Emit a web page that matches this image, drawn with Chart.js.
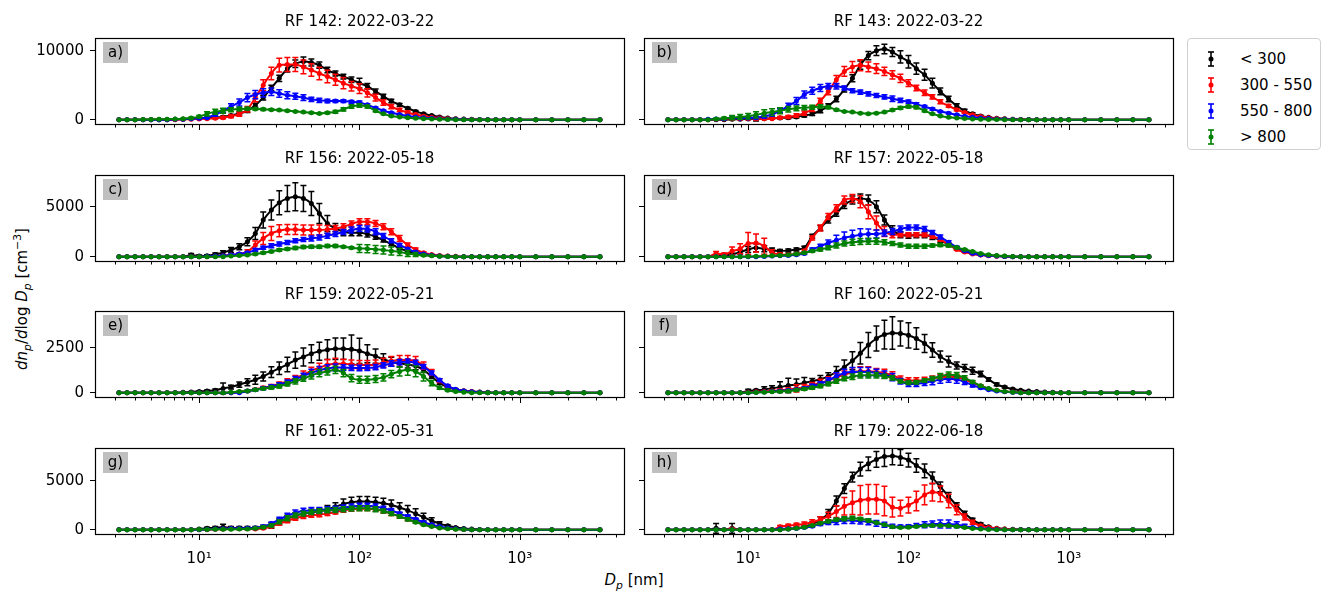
<!DOCTYPE html>
<html>
<head>
<meta charset="utf-8">
<script src="https://cdn.jsdelivr.net/npm/chart.js@4.4.1/dist/chart.umd.min.js"></script>
<style>
body { margin: 0; background: #fff; width: 1323px; height: 592px; overflow: hidden; position: relative;
       font-family: "DejaVu Sans", sans-serif; color: #000; }
canvas { position: absolute; }
#ylab { position: absolute; left: 22px; top: 299px; transform: translate(-50%, -50%) rotate(-90deg);
        font-size: 15px; white-space: nowrap; }
#xlab { position: absolute; left: 634px; top: 580px; transform: translate(-50%, -50%);
        font-size: 15px; white-space: nowrap; }
sub, sup { font-size: 0.72em; line-height: 0; }
#legend { position: absolute; left: 1187px; top: 38px; width: 134px; height: 112px; box-sizing: border-box;
          border: 1px solid #d0d0d0; border-radius: 4px; font-size: 15px; }
#legend svg { position: absolute; left: 16px; }
#legend span { position: absolute; left: 52px; line-height: 18px; white-space: nowrap; }
</style>
</head>
<body>
<div id="ylab"><i>dn</i><sub><i>p</i></sub>/<i>d</i>log <i>D</i><sub><i>p</i></sub> [cm<sup>−3</sup>]</div>
<div id="xlab"><i>D</i><sub><i>p</i></sub> [nm]</div>
<div id="legend"></div>
<script>
// particle diameter bins [nm]
const diam = [3.16, 3.55, 3.98, 4.47, 5.01, 5.62, 6.31, 7.08, 7.94, 8.91,
  10.0, 11.2, 12.6, 14.1, 15.8, 17.8, 20.0, 22.4, 25.1, 28.2,
  31.6, 35.5, 39.8, 44.7, 50.1, 56.2, 63.1, 70.8, 79.4, 89.1,
  100, 112, 126, 141, 158, 178, 200, 224, 251, 282,
  316, 355, 398, 447, 501, 562, 631, 708, 794, 891,
  1000, 1259, 1585, 1995, 2512, 3162];

const seriesNames = ['< 300', '300 - 550', '550 - 800', '> 800'];
const seriesColors = ['#000000', '#ff0000', '#0000ff', '#008000'];

const xTicks = [3, 4, 5, 6, 7, 8, 9, 10, 20, 30, 40, 50, 60, 70, 80, 90,
  100, 200, 300, 400, 500, 600, 700, 800, 900, 1000, 2000, 3000, 4000];
const xTickLabels = { 10: '10¹', 100: '10²', 1000: '10³' };

// RF 142
const a_black = [0,0,0,0,0,0,0,50,80,120, 200,250,300,400,600,900,1300,2100,3200,4600, 6000,7400,8100,8450,8300,7900,7200,6700,6250,5800, 5300,4850,4100,3400,2700,2150,1650,1200,850,600, 400,250,150,100,60,30,0,0,0,0, 0,0,0,0,0,0];
const a_black_err = [0,0,0,0,0,0,0,20,30,50, 80,100,100,120,150,200,250,300,350,400, 450,500,550,650,500,450,400,350,350,400, 700,400,350,300,250,200,150,120,100,80, 60,40,30,20,10,10,0,0,0,0, 0,0,0,0,0,0];
const a_red = [0,0,0,0,0,0,0,0,50,80, 100,150,200,300,500,800,1500,3200,5000,6700, 7900,8000,8000,7650,7200,6700,6250,5800,5300,4850, 4500,3900,3200,2500,1900,1400,1050,750,500,350, 250,150,100,60,30,0,0,0,0,0, 0,0,0,0,0,0];
const a_red_err = [0,0,0,0,0,0,0,0,30,50, 60,80,100,150,200,300,400,600,800,900, 1000,1000,1000,1000,900,900,900,800,800,700, 700,600,500,400,300,250,200,150,100,80, 60,40,30,20,10,0,0,0,0,0, 0,0,0,0,0,0];
const a_blue = [0,0,0,0,0,0,0,50,80,120, 200,300,750,1300,1900,2500,3200,3650,3900,4050, 3800,3550,3400,3200,2950,2800,2700,2700,2700,2600, 2500,2150,1700,1300,1000,750,550,400,280,200, 130,80,50,30,0,0,0,0,0,0, 0,0,0,0,0,0];
const a_blue_err = [0,0,0,0,0,0,0,20,30,50, 80,100,200,300,400,500,600,600,600,550, 550,500,450,400,300,300,250,200,200,200, 200,150,150,120,100,80,60,40,30,20, 20,10,10,10,0,0,0,0,0,0, 0,0,0,0,0,0];
const a_green = [0,0,0,20,40,60,80,100,150,250, 450,850,1150,1300,1450,1550,1600,1550,1500,1450, 1400,1300,1200,1100,1000,900,1000,1150,1500,1900, 2050,1900,1300,850,550,400,300,200,150,100, 60,30,0,0,0,0,0,0,0,0, 0,0,0,0,0,0];
const a_green_err = [0,0,0,10,20,30,40,50,60,100, 150,300,350,350,300,250,200,150,150,120, 120,100,100,100,100,100,150,200,250,250, 250,200,150,100,80,60,50,40,30,20, 10,10,0,0,0,0,0,0,0,0, 0,0,0,0,0,0];

// RF 143
const b_black = [0,0,0,0,0,0,0,0,50,80, 100,120,150,200,250,300,400,600,850,1300, 2000,3000,4400,6000,7900,9300,10000,10250,9800,9100, 8400,7400,6500,5300,4100,3000,2000,1300,850,550, 350,220,130,80,40,20,0,0,0,0, 0,0,0,0,0,0];
const b_black_err = [0,0,0,0,0,0,0,0,50,60, 80,300,100,100,100,150,150,200,250,300, 300,400,400,500,600,600,700,700,650,900, 900,800,800,700,500,400,300,200,150,100, 80,50,30,20,10,10,0,0,0,0, 0,0,0,0,0,0];
const b_red = [0,0,0,0,0,0,50,100,150,200, 200,150,120,150,300,400,600,950,1550,2700, 4100,5800,7000,7650,7900,7650,7400,7000,6500,6000, 5300,4600,3900,3300,2600,2000,1450,1050,700,450, 300,180,110,60,30,0,0,0,0,0, 0,0,0,0,0,0];
const b_red_err = [0,0,0,0,0,0,50,100,150,200, 200,150,100,100,150,200,250,300,350,400, 500,600,700,800,800,700,700,600,600,600, 500,400,400,300,300,200,150,100,80,50, 30,20,10,10,10,0,0,0,0,0, 0,0,0,0,0,0];
const b_blue = [0,0,0,0,0,50,100,150,250,200, 250,300,450,750,1300,2000,2700,3650,4200,4600, 4850,4850,4600,4200,4000,3750,3500,3300,3050,2800, 2600,2250,1900,1550,1200,950,700,500,350,250, 160,100,60,30,0,0,0,0,0,0, 0,0,0,0,0,0];
const b_blue_err = [0,0,0,0,0,50,100,150,150,150, 150,150,200,250,300,400,500,500,500,500, 400,400,300,300,300,300,300,300,400,300, 250,200,150,150,100,100,80,60,40,30, 20,10,10,10,0,0,0,0,0,0, 0,0,0,0,0,0];
const b_green = [0,0,0,0,0,0,100,200,300,400, 500,700,950,1100,1300,1500,1650,1750,1800,1900, 1800,1450,1200,1100,950,850,950,1100,1400,1700, 1900,1800,1300,850,550,350,250,170,110,70, 40,20,0,0,0,0,0,0,0,0, 0,0,0,0,0,0];
const b_green_err = [0,0,0,0,0,0,100,150,300,350, 400,450,500,500,450,400,350,300,300,250, 200,150,100,100,100,100,100,100,150,200, 200,200,150,100,80,60,40,30,20,10, 10,10,0,0,0,0,0,0,0,0, 0,0,0,0,0,0];

// RF 156
const c_black = [0,0,0,0,0,0,0,0,0,170, 70,100,230,400,670,1000,1500,2330,3660,4660, 5400,5830,6000,5830,5330,4330,3330,2830,2500,2400, 2400,2260,2000,1660,1260,830,560,330,200,120, 70,40,0,0,0,0,0,0,0,0, 0,0,0,0,0,0];
const c_black_err = [0,0,0,0,0,0,0,0,0,150, 100,100,150,200,250,300,400,600,800,1000, 1200,1300,1400,1300,1200,1000,800,500,400,300, 300,300,250,200,150,100,80,50,30,20, 10,10,0,0,0,0,0,0,0,0, 0,0,0,0,0,0];
const c_red = [0,0,0,0,0,0,0,0,0,0, 0,0,50,100,170,270,500,1170,1830,2330, 2600,2730,2730,2660,2660,2660,2730,2830,3000,3260, 3500,3500,3330,3000,2500,1830,1170,730,400,230, 130,70,40,0,0,0,0,0,0,0, 0,0,0,0,0,0];
const c_red_err = [0,0,0,0,0,0,0,0,0,0, 0,0,30,50,80,100,200,400,600,700, 600,500,500,500,500,500,400,300,300,300, 300,300,300,300,300,300,200,150,100,50, 30,20,10,0,0,0,0,0,0,0, 0,0,0,0,0,0];
const c_blue = [0,0,0,0,0,0,0,0,0,0, 0,30,60,100,170,270,400,670,900,1100, 1260,1430,1600,1730,1830,1930,2100,2260,2460,2660, 2830,2760,2500,2060,1600,1170,770,470,270,150, 80,40,0,0,0,0,0,0,0,0, 0,0,0,0,0,0];
const c_blue_err = [0,0,0,0,0,0,0,0,0,0, 0,20,30,50,80,100,100,150,150,200, 200,200,200,200,250,250,250,250,250,300, 300,300,300,250,200,150,100,80,50,30, 20,10,0,0,0,0,0,0,0,0, 0,0,0,0,0,0];
const c_green = [0,0,0,0,0,0,0,0,0,0, 0,0,0,0,70,120,170,270,400,530, 670,770,870,970,1000,1000,1070,1070,1000,900, 830,800,730,670,570,470,330,230,150,90, 50,30,0,0,0,0,0,0,0,0, 0,0,0,0,0,0];
const c_green_err = [0,0,0,0,0,0,0,0,0,0, 0,0,0,0,30,50,60,80,100,100, 120,120,150,150,150,150,150,150,100,100, 400,400,400,400,400,350,300,200,100,50, 30,20,0,0,0,0,0,0,0,0, 0,0,0,0,0,0];

// RF 157
const d_black = [0,0,0,0,0,0,60,130,230,460, 720,890,790,660,560,620,720,890,2040,2860, 3680,4340,5170,5660,5820,5660,5000,3680,2700,2200, 2100,2140,2140,1970,1650,1220,820,530,330,200, 120,70,40,0,0,0,0,0,0,0, 0,0,0,0,0,0];
const d_black_err = [0,0,0,0,0,0,30,60,100,200, 300,400,300,200,150,150,150,150,200,250, 300,300,350,400,450,500,600,500,400,300, 250,250,250,250,200,150,100,80,50,30, 20,10,10,0,0,0,0,0,0,0, 0,0,0,0,0,0];
const d_red = [0,0,0,0,0,0,330,230,560,790, 1320,1380,1050,400,230,200,260,560,1880,2860, 4010,4840,5660,5820,5500,4500,3360,2530,2200,2200, 2200,2200,2200,2040,1710,1220,720,460,280,170, 100,50,30,0,0,0,0,0,0,0, 0,0,0,0,0,0];
const d_red_err = [0,0,0,0,0,0,200,150,400,500, 1100,900,800,300,150,100,100,150,200,300, 300,350,400,400,600,700,700,500,300,200, 200,200,200,200,150,100,80,50,30,20, 10,10,10,0,0,0,0,0,0,0, 0,0,0,0,0,0];
const d_blue = [0,0,0,0,0,0,0,0,0,0, 0,0,30,60,90,130,200,330,720,1050, 1380,1650,1880,2040,2200,2270,2270,2370,2530,2760, 2930,2930,2760,2430,1970,1450,950,590,350,200, 120,60,30,0,0,0,0,0,0,0, 0,0,0,0,0,0];
const d_blue_err = [0,0,0,0,0,0,0,0,0,0, 0,0,20,30,50,60,80,100,150,200, 300,500,600,600,600,500,400,300,300,300, 250,250,250,200,200,150,100,80,50,30, 20,10,10,0,0,0,0,0,0,0, 0,0,0,0,0,0];
const d_green = [0,0,0,0,0,0,0,0,0,0, 20,40,60,90,130,170,260,400,560,720, 890,1120,1320,1450,1510,1550,1550,1450,1320,1180, 1050,1050,1050,1120,1180,1120,920,720,530,330, 200,110,60,30,0,0,0,0,0,0, 0,0,0,0,0,0];
const d_green_err = [0,0,0,0,0,0,0,0,0,0, 10,20,30,40,50,60,80,100,120,150, 200,250,250,300,300,300,300,250,200,200, 200,200,200,150,150,150,100,80,50,30, 20,10,10,10,0,0,0,0,0,0, 0,0,0,0,0,0];

// RF 159
const e_black = [0,0,0,0,0,0,0,0,20,40, 70,100,130,240,310,450,580,720,900,1140, 1360,1570,1810,1990,2170,2300,2390,2440,2440,2410, 2320,2170,2030,1860,1720,1630,1570,1480,1270,900, 540,310,180,110,70,40,20,0,0,0, 0,0,0,0,0,0];
const e_black_err = [0,0,0,0,0,0,0,0,10,20, 30,50,80,300,100,150,200,250,250,300, 350,400,450,500,500,500,550,600,600,800, 700,500,400,300,250,200,200,200,150,100, 80,50,30,20,10,10,10,0,0,0, 0,0,0,0,0,0];
const e_red = [0,0,0,0,0,0,0,0,0,0, 0,0,0,0,0,50,90,180,270,360, 490,630,810,1000,1210,1390,1540,1610,1610,1570, 1540,1540,1570,1670,1760,1810,1810,1760,1500,1140, 670,360,180,100,60,30,0,0,0,0, 0,0,0,0,0,0];
const e_red_err = [0,0,0,0,0,0,0,0,0,0, 0,0,0,0,0,30,50,50,80,100, 100,150,150,200,200,250,300,300,250,250, 250,250,250,250,250,250,250,250,200,150, 100,60,30,20,10,10,0,0,0,0, 0,0,0,0,0,0];
const e_blue = [0,0,0,0,0,0,0,0,0,0, 0,0,0,0,0,0,90,160,250,340, 450,580,750,930,1100,1250,1350,1400,1400,1380, 1370,1380,1420,1520,1620,1700,1720,1650,1450,1100, 700,380,190,100,50,20,0,0,0,0, 0,0,0,0,0,0];
const e_blue_err = [0,0,0,0,0,0,0,0,0,0, 0,0,0,0,0,0,40,60,80,100, 100,120,150,150,200,200,200,200,150,150, 150,150,150,150,150,150,150,150,120,100, 80,50,30,20,10,10,0,0,0,0, 0,0,0,0,0,0];
const e_green = [0,0,0,0,0,0,0,0,0,0, 0,0,0,0,30,60,100,160,230,290, 360,490,630,780,960,1090,1180,1270,1090,810, 720,720,760,850,1030,1180,1270,1180,900,540, 270,140,70,30,0,0,0,0,0,0, 0,0,0,0,0,0];
const e_green_err = [0,0,0,0,0,0,0,0,0,0, 0,0,0,0,20,30,40,50,60,80, 100,120,150,150,200,200,200,200,200,200, 200,200,200,200,200,250,300,300,250,150, 80,40,20,10,0,0,0,0,0,0, 0,0,0,0,0,0];

// RF 160
const f_black = [0,0,0,0,0,0,0,0,0,0, 90,130,180,240,310,400,460,550,640,750, 910,1150,1420,1770,2190,2650,3010,3230,3320,3290, 3190,3010,2740,2370,2010,1730,1510,1370,1220,1040, 730,460,310,200,140,90,60,40,20,0, 0,0,0,0,0,0];
const f_black_err = [0,0,0,0,0,0,0,0,0,0, 100,50,150,150,300,400,300,300,150,200, 200,300,400,500,600,700,700,800,900,700, 700,600,500,400,300,300,200,200,200,150, 100,80,50,30,20,10,10,10,10,0, 0,0,0,0,0,0];
const f_red = [0,0,0,0,0,0,0,0,0,0, 30,50,70,100,130,180,240,310,420,550, 680,860,1000,1130,1190,1190,1150,1100,970,780, 680,680,710,780,860,890,860,730,550,370, 220,130,70,40,20,0,0,0,0,0, 0,0,0,0,0,0];
const f_red_err = [0,0,0,0,0,0,0,0,0,0, 20,30,40,50,80,100,200,150,150,200, 200,200,200,250,250,250,200,200,200,150, 150,150,150,150,150,150,150,100,80,50, 30,20,10,10,10,0,0,0,0,0, 0,0,0,0,0,0];
const f_blue = [0,0,0,0,0,0,0,0,0,0, 0,20,40,70,100,130,180,240,370,490, 680,910,1100,1150,1150,1150,1100,1000,860,640, 490,490,550,640,730,780,730,600,420,270, 160,90,50,20,0,0,0,0,0,0, 0,0,0,0,0,0];
const f_blue_err = [0,0,0,0,0,0,0,0,0,0, 0,10,20,30,40,50,60,80,100,120, 150,200,200,250,250,250,200,200,200,150, 150,150,150,200,200,200,200,150,100,50, 30,20,10,10,0,0,0,0,0,0, 0,0,0,0,0,0];
const f_green = [0,0,0,0,0,0,0,0,0,0, 0,15,30,50,70,90,150,200,270,370, 490,640,780,890,970,970,970,910,820,640, 550,580,680,780,910,1000,970,820,600,380, 240,130,70,30,0,0,0,0,0,0, 0,0,0,0,0,0];
const f_green_err = [0,0,0,0,0,0,0,0,0,0, 0,10,20,20,30,40,50,60,80,100, 100,120,120,150,150,150,150,120,120,100, 100,100,100,120,150,150,150,120,80,50, 30,20,10,10,0,0,0,0,0,0, 0,0,0,0,0,0];

// RF 161
const g_black = [0,0,0,0,0,0,0,0,0,0, 70,150,180,260,180,180,180,180,260,440, 800,1170,1420,1640,1790,1900,2080,2340,2630,2810, 2880,2880,2810,2700,2520,2260,1970,1640,1280,910, 620,400,220,110,60,30,0,0,0,0, 0,0,0,0,0,0];
const g_black_err = [0,0,0,0,0,0,0,0,0,0, 50,100,150,300,150,150,150,150,200,300, 300,300,300,300,300,300,400,400,500,500, 500,500,500,500,500,500,500,500,400,300, 200,100,50,30,20,10,0,0,0,0, 0,0,0,0,0,0];
const g_red = [0,0,0,0,0,0,0,0,0,0, 0,0,50,80,100,100,90,70,150,330, 620,910,1170,1350,1460,1530,1640,1790,1970,2080, 2150,2150,2080,1900,1640,1350,1060,800,550,370, 220,120,60,30,0,0,0,0,0,0, 0,0,0,0,0,0];
const g_red_err = [0,0,0,0,0,0,0,0,0,0, 0,0,30,50,60,60,60,50,80,100, 150,200,200,200,200,200,200,200,200,200, 200,200,200,200,200,150,150,100,80,50, 30,20,10,10,0,0,0,0,0,0, 0,0,0,0,0,0];
const g_blue = [0,0,0,0,0,0,0,0,0,0, 0,50,80,100,120,130,150,180,330,620, 1060,1420,1720,1900,1970,2010,2080,2150,2260,2370, 2450,2450,2370,2190,1970,1640,1350,1060,770,510, 330,180,90,40,0,0,0,0,0,0, 0,0,0,0,0,0];
const g_blue_err = [0,0,0,0,0,0,0,0,0,0, 0,30,50,60,60,60,60,80,100,150, 200,250,300,300,300,250,250,250,250,250, 250,250,250,200,200,150,150,100,80,50, 30,20,10,10,0,0,0,0,0,0, 0,0,0,0,0,0];
const g_green = [0,0,0,0,0,0,0,0,0,0, 20,30,40,50,50,60,70,150,260,440, 800,1170,1460,1640,1790,1900,1970,2010,2080,2150, 2190,2190,2080,1900,1640,1350,1060,770,510,330, 180,90,40,20,0,0,0,0,0,0, 0,0,0,0,0,0];
const g_green_err = [0,0,0,0,0,0,0,0,0,0, 10,20,20,30,30,30,40,60,100,150, 200,250,250,250,250,250,250,250,250,250, 250,250,250,200,200,150,150,100,80,50, 30,20,10,10,0,0,0,0,0,0, 0,0,0,0,0,0];

// RF 179
const h_black = [0,0,0,0,0,0,140,0,140,0, 0,0,0,0,0,70,140,290,580,1010, 1670,2930,4200,5360,6190,6730,7170,7460,7530,7380, 7100,6550,6010,5290,4380,3400,2460,1670,1010,580, 290,150,80,40,20,0,0,0,0,0, 0,0,0,0,0,0];
const h_black_err = [0,0,0,0,0,0,500,0,500,0, 0,0,0,0,0,50,100,150,200,300, 400,500,500,500,700,700,800,1000,900,800, 700,700,700,600,500,400,300,200,150,100, 50,30,20,10,10,0,0,0,0,0, 0,0,0,0,0,0];
const h_red = [0,0,0,0,0,0,0,0,70,0, 0,0,0,0,290,400,510,580,760,1010, 1380,1850,2390,2750,3000,3110,3110,2930,2300,2200, 2500,2930,3550,3840,3660,2930,2030,1300,760,400, 220,110,60,30,0,0,0,0,0,0, 0,0,0,0,0,0];
const h_red_err = [0,0,0,0,0,0,0,0,100,0, 0,0,0,0,150,150,150,200,250,300, 400,600,900,1200,1500,1500,1500,1500,1000,800, 800,1000,1000,900,800,700,500,300,200,100, 50,30,20,10,0,0,0,0,0,0, 0,0,0,0,0,0];
const h_blue = [0,0,0,0,0,0,0,0,0,0, 0,0,0,0,70,100,140,220,360,580, 720,830,940,940,870,800,650,510,360,330, 360,430,510,580,580,580,510,360,220,120, 60,30,0,0,0,0,0,0,0,0, 0,0,0,0,0,0];
const h_blue_err = [0,0,0,0,0,0,0,0,0,0, 0,0,0,0,50,50,60,80,100,150, 200,300,300,300,300,300,300,250,200,150, 150,200,300,300,400,400,300,200,100,50, 30,20,0,0,0,0,0,0,0,0, 0,0,0,0,0,0];
const h_green = [0,0,0,0,0,0,0,0,0,0, 0,0,0,0,0,70,140,250,430,650, 870,1010,1120,1160,1090,940,720,510,290,220, 250,330,400,430,430,400,330,220,130,70, 30,0,0,0,0,0,0,0,0,0, 0,0,0,0,0,0];
const h_green_err = [0,0,0,0,0,0,0,0,0,0, 0,0,0,0,0,30,50,60,80,100, 150,150,200,200,150,150,100,100,80,80, 80,80,80,80,80,80,80,60,40,20, 10,0,0,0,0,0,0,0,0,0, 0,0,0,0,0,0];

// y axis range and ticks for each row of panels (rows share y)
const rowYMin = [-623, -430, -239, -439];
const rowYMax = [11841, 8170, 4539, 8337];
const rowYTicks = [[0, 10000], [0, 5000], [0, 2500], [0, 5000]];

const xMin = 2.24, xMax = 4467;
const boxW = 529, boxH = 86;
const colLeft = [95, 644];
const rowTop = [38, 175, 311, 448];

const panels = [
  { tag: 'a)', title: 'RF 142: 2022-03-22', row: 0, col: 0, s: [[a_black, a_black_err], [a_red, a_red_err], [a_blue, a_blue_err], [a_green, a_green_err]] },
  { tag: 'b)', title: 'RF 143: 2022-03-22', row: 0, col: 1, s: [[b_black, b_black_err], [b_red, b_red_err], [b_blue, b_blue_err], [b_green, b_green_err]] },
  { tag: 'c)', title: 'RF 156: 2022-05-18', row: 1, col: 0, s: [[c_black, c_black_err], [c_red, c_red_err], [c_blue, c_blue_err], [c_green, c_green_err]] },
  { tag: 'd)', title: 'RF 157: 2022-05-18', row: 1, col: 1, s: [[d_black, d_black_err], [d_red, d_red_err], [d_blue, d_blue_err], [d_green, d_green_err]] },
  { tag: 'e)', title: 'RF 159: 2022-05-21', row: 2, col: 0, s: [[e_black, e_black_err], [e_red, e_red_err], [e_blue, e_blue_err], [e_green, e_green_err]] },
  { tag: 'f)', title: 'RF 160: 2022-05-21', row: 2, col: 1, s: [[f_black, f_black_err], [f_red, f_red_err], [f_blue, f_blue_err], [f_green, f_green_err]] },
  { tag: 'g)', title: 'RF 161: 2022-05-31', row: 3, col: 0, s: [[g_black, g_black_err], [g_red, g_red_err], [g_blue, g_blue_err], [g_green, g_green_err]] },
  { tag: 'h)', title: 'RF 179: 2022-06-18', row: 3, col: 1, s: [[h_black, h_black_err], [h_red, h_red_err], [h_blue, h_blue_err], [h_green, h_green_err]] }
];

Chart.defaults.font.family = 'DejaVu Sans';
Chart.defaults.font.size = 15;
Chart.defaults.color = '#000';

// error bars, drawn right after each dataset so the stacking matches
const errorBars = {
  id: 'errorBars',
  afterDatasetDraw(chart, args) {
    const ds = chart.data.datasets[args.index];
    const xs = chart.scales.x, ys = chart.scales.y, area = chart.chartArea;
    const ctx = chart.ctx;
    ctx.save();
    ctx.beginPath();
    ctx.rect(area.left, area.top, area.width, area.height);
    ctx.clip();
    ctx.strokeStyle = ds.borderColor;
    ctx.lineWidth = 1.5;
    ds.errs.forEach((e, i) => {
      if (!e) return;
      const v = ds.data[i].y;
      const px = xs.getPixelForValue(ds.data[i].x);
      const top = ys.getPixelForValue(v + e), bot = ys.getPixelForValue(v - e);
      ctx.beginPath();
      ctx.moveTo(px, top); ctx.lineTo(px, bot);
      ctx.moveTo(px - 3, top); ctx.lineTo(px + 3, top);
      ctx.moveTo(px - 3, bot); ctx.lineTo(px + 3, bot);
      ctx.stroke();
    });
    ctx.restore();
  }
};

// frame, log minor ticks and the grey panel tag
const panelDeco = {
  id: 'panelDeco',
  afterDraw(chart, args, opts) {
    const ctx = chart.ctx, a = chart.chartArea, xs = chart.scales.x;
    ctx.save();
    ctx.strokeStyle = '#000';
    ctx.lineWidth = 1;
    xTicks.forEach(v => {
      const px = Math.round(xs.getPixelForValue(v)) + 0.5;
      const len = xTickLabels[v] ? 6 : 3.5;
      ctx.beginPath();
      ctx.moveTo(px, a.bottom);
      ctx.lineTo(px, a.bottom + len);
      ctx.stroke();
    });
    ctx.lineWidth = 1.2;
    ctx.strokeRect(a.left + 0.5, a.top + 0.5, a.width, a.height);
    ctx.fillStyle = '#bfbfbf';
    ctx.fillRect(a.left + 8, a.top + 4, 25, 21);
    ctx.fillStyle = '#000';
    ctx.font = '15px "DejaVu Sans"';
    ctx.textAlign = 'center';
    ctx.textBaseline = 'middle';
    ctx.fillText(opts.tag, a.left + 20.5, a.top + 15);
    ctx.restore();
  }
};

panels.forEach(p => {
  p.s.forEach(([v, e]) => {
    if (v.length !== diam.length || e.length !== diam.length) throw new Error('bad length in ' + p.tag);
  });
  const left = colLeft[p.col], top = rowTop[p.row];
  const cv = document.createElement('canvas');
  cv.width = boxW + 80;
  cv.height = boxH + 65;
  cv.style.left = (left - 70) + 'px';
  cv.style.top = (top - 30) + 'px';
  document.body.appendChild(cv);

  new Chart(cv, {
    type: 'line',
    data: {
      datasets: p.s.map(([vals, errs], k) => ({
        label: seriesNames[k],
        data: diam.map((d, i) => ({ x: d, y: vals[i] })),
        errs: errs,
        borderColor: seriesColors[k],
        backgroundColor: seriesColors[k],
        pointBackgroundColor: seriesColors[k],
        pointRadius: 2.5,
        pointBorderWidth: 0,
        borderWidth: 2,
        cubicInterpolationMode: 'monotone',
        order: 3 - k
      }))
    },
    options: {
      responsive: false,
      animation: false,
      devicePixelRatio: 1,
      events: [],
      layout: { padding: { right: 10 } },
      plugins: {
        legend: { display: false },
        tooltip: { enabled: false },
        title: {
          display: true, text: p.title, fullSize: false,
          font: { size: 15, weight: 'normal' },
          padding: { top: 5, bottom: 7 }
        },
        panelDeco: { tag: p.tag }
      },
      scales: {
        x: {
          type: 'logarithmic', min: xMin, max: xMax, bounds: 'data',
          afterBuildTicks: s => { s.ticks = xTicks.map(v => ({ value: v })); },
          afterFit: s => { s.height = 35; },
          grid: { display: false, drawTicks: false },
          border: { display: false },
          ticks: {
            display: p.row === 3, autoSkip: false, maxRotation: 0, padding: 16,
            callback: v => xTickLabels[v] || ''
          }
        },
        y: {
          type: 'linear', min: rowYMin[p.row], max: rowYMax[p.row], bounds: 'data',
          afterBuildTicks: s => { s.ticks = rowYTicks[p.row].map(v => ({ value: v })); },
          afterFit: s => { s.width = 70; },
          grid: { drawOnChartArea: false, drawTicks: true, tickLength: 5, color: '#000', lineWidth: 1 },
          border: { display: false },
          ticks: { display: p.col === 0, padding: 6, callback: v => String(v) }
        }
      }
    },
    plugins: [errorBars, panelDeco]
  });
});

// legend with error-bar markers
const legend = document.getElementById('legend');
seriesNames.forEach((name, k) => {
  const cy = 20 + k * 26;
  const c = seriesColors[k];
  legend.insertAdjacentHTML('beforeend',
    `<svg width="14" height="18" style="top:${cy - 9}px"><line x1="7" y1="2" x2="7" y2="16" stroke="${c}" stroke-width="1.6"/>` +
    `<line x1="4" y1="2" x2="10" y2="2" stroke="${c}" stroke-width="1.6"/><line x1="4" y1="16" x2="10" y2="16" stroke="${c}" stroke-width="1.6"/>` +
    `<circle cx="7" cy="9" r="2.5" fill="${c}"/></svg><span style="top:${cy - 9}px">${name.replace('<', '&lt;').replace('>', '&gt;')}</span>`);
});
</script>
</body>
</html>
